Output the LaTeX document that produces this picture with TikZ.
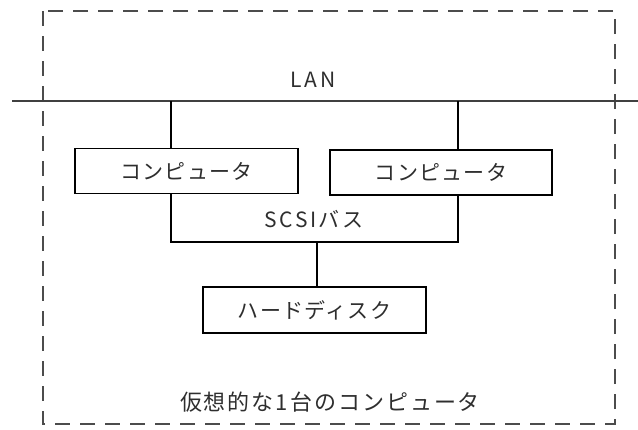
\documentclass[tikz,border=0pt]{standalone}
\usepackage{fontspec}
\setmainfont{Noto Sans CJK JP}
\newfontfamily\jp{Noto Sans CJK JP}[LetterSpace=6]
\newfontfamily\jpwide{Noto Sans CJK JP}[LetterSpace=9]
\newfontfamily\latwide{Noto Sans CJK JP}[LetterSpace=12]
\begin{document}
\begin{tikzpicture}[x=1pt,y=-1pt,
  box/.style={draw,line width=1.3pt,inner sep=0pt},
  wire/.style={line width=1.1pt},
  lbl/.style={font=\jp\fontsize{21}{23}\selectfont,text=black!82,inner sep=0pt}]
\useasboundingbox (0,0) rectangle (638,429);
% virtual computer boundary
\draw[line width=1.3pt,black!70,dash pattern=on 15pt off 10pt] (43,11) rectangle (615,424);
% LAN
\coordinate (lanL) at (12,101);
\coordinate (lanR) at (638,101);
\draw[line width=1.4pt,black!75] (lanL) -- (lanR);
\node[lbl,font=\latwide\fontsize{21}{23}\selectfont] (lan) at (313,80) {LAN};
% computers
\node[box,minimum width=223pt,minimum height=45pt] (c1) at (186.5,171) {};
\node[lbl] at (c1.center) {コンピュータ};
\node[box,minimum width=222pt,minimum height=45pt] (c2) at (441,172.5) {};
\node[lbl] at (c2.center) {コンピュータ};
% hard disk
\node[box,minimum width=223pt,minimum height=46pt] (hd) at (314.5,310) {};
\node[lbl] at (hd.center) {ハードディスク};
% LAN drops
\coordinate (l1) at (171,101);
\coordinate (l2) at (458,101);
\draw[wire] (l1) -- (l1 |- c1.north);
\draw[wire] (l2) -- (l2 |- c2.north);
% SCSI bus
\coordinate (b1) at (171,242);
\coordinate (b2) at (458,242);
\coordinate (bm) at (317,242);
\draw[wire] (b1 |- c1.south) -- (b1) -- (b2) -- (b2 |- c2.south);
\draw[wire] (bm) -- (bm |- hd.north);
\node[lbl,font=\latwide\fontsize{21}{23}\selectfont] (scsi) at (314,219) {SCSIバス};
% caption
\node[lbl,font=\jpwide\fontsize{22}{24}\selectfont] (cap) at (330,402) {仮想的な1台のコンピュータ};
\end{tikzpicture}
\end{document}
